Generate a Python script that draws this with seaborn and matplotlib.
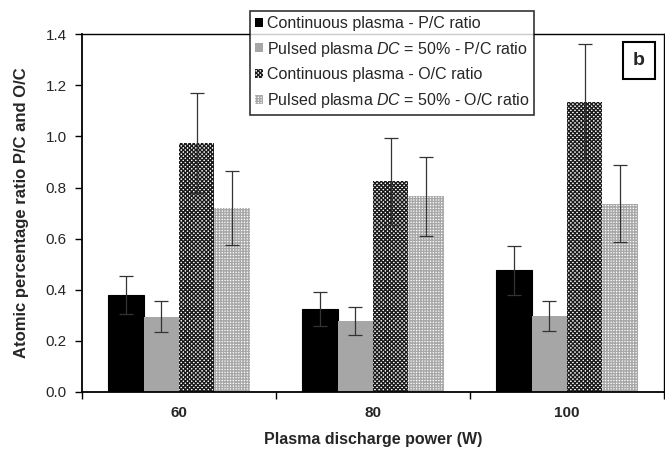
import matplotlib
matplotlib.use("Agg")
import matplotlib.pyplot as plt
import seaborn as sns
import pandas as pd
import numpy as np
from matplotlib.patches import Patch
from matplotlib.container import BarContainer

powers = ["60", "80", "100"]
series = ["Continuous plasma - P/C ratio",
          "Pulsed plasma $\\mathit{DC}$ = 50% - P/C ratio",
          "Continuous plasma - O/C ratio",
          "Pulsed plasma $\\mathit{DC}$ = 50% - O/C ratio"]
cont_pc = [0.38, 0.325, 0.477]
puls_pc = [0.295, 0.277, 0.298]
cont_oc = [0.975, 0.825, 1.134]
puls_oc = [0.72, 0.766, 0.737]
err_cont_pc = [0.075, 0.068, 0.096]
err_puls_pc = [0.06, 0.055, 0.06]
err_cont_oc = [0.195, 0.17, 0.229]
err_puls_oc = [0.145, 0.155, 0.15]

values = [cont_pc, puls_pc, cont_oc, puls_oc]
errors = [err_cont_pc, err_puls_pc, err_cont_oc, err_puls_oc]

rows = []
for s, v in zip(series, values):
    for p, val in zip(powers, v):
        rows.append({"power": p, "series": s, "value": val})
df = pd.DataFrame(rows)

sns.set_theme(style="white")
plt.rcParams['font.family'] = ['Liberation Sans', 'DejaVu Sans']
plt.rcParams['mathtext.fontset'] = 'custom'
plt.rcParams['mathtext.it'] = 'Liberation Sans:italic'
plt.rcParams['mathtext.rm'] = 'Liberation Sans'
plt.rcParams['hatch.linewidth'] = 1.0

fig = plt.figure(figsize=(6.65, 4.54), dpi=100)
ax = fig.add_axes([0.1233, 0.1366, 0.8752, 0.788])

face = ["black", "#a6a6a6", "white", "white"]
sns.barplot(data=df, x="power", y="value", hue="series", hue_order=series,
            order=powers, palette=face, width=0.73, ax=ax, legend=False,
            errorbar=None, saturation=1)

hatches = [None, None, "xxxxxxxx", "++++++"]
hcolors = ["black", "#a6a6a6", "#1a1a1a", "#a8a8a8"]
bar_containers = [c for c in ax.containers if isinstance(c, BarContainer)]
for i, cont in enumerate(bar_containers):
    for j, bar in enumerate(cont.patches):
        bar.set_facecolor(face[i])
        if hatches[i]:
            bar.set_hatch(hatches[i])
            bar.set_edgecolor(hcolors[i])
            bar.set_linewidth(0)
        elif i == 0:
            bar.set_edgecolor("black")
            bar.set_linewidth(0.8)
        else:
            bar.set_edgecolor(face[i])
            bar.set_linewidth(0)
        x = bar.get_x() + bar.get_width() / 2
        ax.errorbar(x, values[i][j], yerr=errors[i][j], fmt="none",
                    ecolor="#333333", elinewidth=0.9, capsize=5, capthick=0.9, zorder=5)

ax.set_xlim(-0.5, 2.5)
ax.set_ylim(0, 1.4)
ax.set_yticks(np.arange(0, 1.41, 0.2))
ax.set_yticklabels([f"{t:.1f}" for t in np.arange(0, 1.41, 0.2)], fontsize=11)
ax.set_xticks([-0.5, 0.5, 1.5, 2.5])
ax.set_xticklabels([])
ax.set_xticks([0, 1, 2], minor=True)
ax.set_xticklabels(powers, minor=True, fontsize=11, fontweight="bold")
ax.tick_params(axis="x", which="minor", length=0, pad=10)
ax.tick_params(axis="x", which="major", length=5, direction="out", width=1, color="black", bottom=True)
ax.tick_params(axis="y", length=5, direction="out", width=1, color="black", left=True, pad=6)

for sp in ax.spines.values():
    sp.set_color("black")
    sp.set_linewidth(1)
ax.spines["left"].set_linewidth(1.3)
ax.spines["bottom"].set_linewidth(1.3)

ax.set_xlabel("Plasma discharge power (W)", fontsize=11.5, fontweight="bold")
ax.xaxis.set_label_coords(0.5, -0.112)
ax.set_ylabel("Atomic percentage ratio P/C and O/C", fontsize=12, fontweight="bold", labelpad=12)

handles = []
for i in range(4):
    handles.append(Patch(facecolor=face[i], edgecolor=hcolors[i] if hatches[i] else face[i],
                         hatch=hatches[i], linewidth=0))
leg = fig.legend(handles, series, loc="upper left", bbox_to_anchor=(250/665, 1 - 11/454),
                 fontsize=11.5, frameon=True, fancybox=False, handlelength=0.5, handleheight=0.5,
                 handletextpad=0.25, borderpad=0.3, labelspacing=0.55, borderaxespad=0)
leg.get_frame().set_edgecolor("black")
leg.get_frame().set_linewidth(1.2)
leg.set_zorder(10)

ax.text(0.957, 0.927, "b", transform=ax.transAxes, fontsize=14, fontweight="bold",
        ha="center", va="center",
        bbox=dict(boxstyle="square,pad=0.5", facecolor="white", edgecolor="black", linewidth=1.5))

fig.savefig("out.png", dpi=100)
